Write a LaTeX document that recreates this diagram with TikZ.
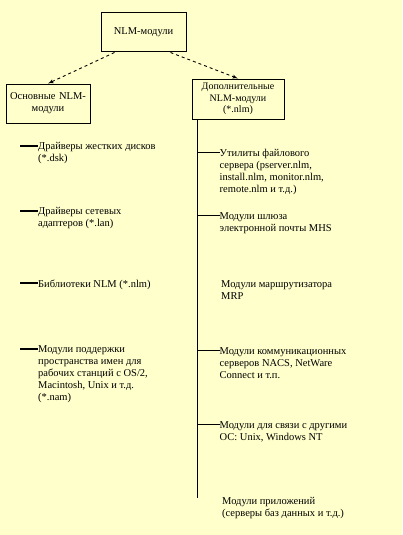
\documentclass[tikz,border=0pt]{standalone}
\usepackage{fontspec}
\setmainfont{Liberation Serif}
\usepackage{tikz}
\usetikzlibrary{shapes,arrows,calc,positioning}
\usepackage{xcolor}
\definecolor{paper}{HTML}{FFFFCC}
\tikzstyle{module} = [rectangle, draw, line width=1pt, text centered, sharp corners, %
inner sep=1pt]
\tikzstyle{item} = [anchor=north west, align=left, inner sep=0pt]
\tikzstyle{arrow} = [draw, line width=0.9pt, dashed, -latex']
\tikzstyle{branch} = [draw, line width=1.6pt]
\tikzstyle{thinbranch} = [draw, line width=1pt]
\tikzstyle{trunk} = [draw, line width=1.2pt]

\begin{document}
\begin{tikzpicture}[x=1pt, y=-1pt, font=\fontsize{10.5}{12}\selectfont]
    \fill[paper] (0,0) rectangle (402,535);
    \useasboundingbox (0,0) rectangle (402,535);
    \node[module, minimum width=85pt, minimum height=39pt] (nlm) at (143.5,32.5) {NLM-модули};
    \node[module, minimum width=84pt, minimum height=39pt, text width=82pt, text depth=15pt] (basic) at (48,103.5) {Основные NLM-\\модули};
    \node[module, minimum width=92pt, minimum height=40pt, align=center, font=\fontsize{10}{11.5}\selectfont] (extra) at (238,99) {Дополнительные\\NLM-модули\\(*.nlm)};
    % draw arrows
    \path[arrow] ($(nlm.south west)+(14,0)$) -- (basic.north);
    \path[arrow] ($(nlm.south east)+(-16,0)$) -- (extra.north);
    % left list
    \coordinate (l1) at (20,146);
    \coordinate[below=65pt of l1] (l2);
    \coordinate[below=72pt of l2] (l3);
    \coordinate[below=66pt of l3] (l4);
    \node[item, below right=-3.5pt and 18pt of l1] (disk) {Драйверы жестких дисков\\(*.dsk)};
    \node[item, below right=-3.5pt and 18pt of l2] (lan) {Драйверы сетевых\\адаптеров (*.lan)};
    \node[item, below right=-3.5pt and 18pt of l3] (lib) {Библиотеки NLM (*.nlm)};
    \node[item, below right=-3.5pt and 18pt of l4] (nam) {Модули поддержки\\пространства имен для\\рабочих станций с OS/2,\\Macintosh, Unix и т.д.\\(*.nam)};
    \path[branch] (l1) -- (l1 -| disk.west);
    \path[branch] (l2) -- (l2 -| lan.west);
    \path[branch] (l3) -- (l3 -| lib.west);
    \path[branch] (l4) -- (l4 -| nam.west);
    % right list
    \coordinate (top) at ($(extra.south west)+(6,0)$);
    \coordinate[below=33pt of top] (r1);
    \coordinate[below=63pt of r1] (r2);
    \coordinate[below=135pt of r2] (r4);
    \coordinate[below=74pt of r4] (r5);
    \coordinate[below=73pt of r5] (bottom);
    \path[trunk] (top) -- (bottom);
    \node[item, below right=-3.5pt and 22pt of r1] (util) {Утилиты файлового\\сервера (pserver.nlm,\\install.nlm, monitor.nlm,\\remote.nlm и т.д.)};
    \node[item, below right=-3.5pt and 22pt of r2] (mhs) {Модули шлюза\\электронной почты MHS};
    \node[item] (mrp) at (221,280.5) {Модули маршрутизатора\\MRP};
    \node[item, below right=-3.5pt and 22pt of r4] (nacs) {Модули коммуникационных\\серверов NACS, NetWare\\Connect и т.п.};
    \node[item, below right=-3.5pt and 22pt of r5] (os) {Модули для связи с другими\\ОС: Unix, Windows NT};
    \node[item] (appl) at (222,497.5) {Модули приложений\\(серверы баз данных и т.д.)};
    \path[thinbranch] (r1) -- (r1 -| util.west);
    \path[branch] (r2) -- (r2 -| mhs.west);
    \path[branch] (r4) -- (r4 -| nacs.west);
    \path[thinbranch] (r5) -- (r5 -| os.west);
\end{tikzpicture}
\end{document}
